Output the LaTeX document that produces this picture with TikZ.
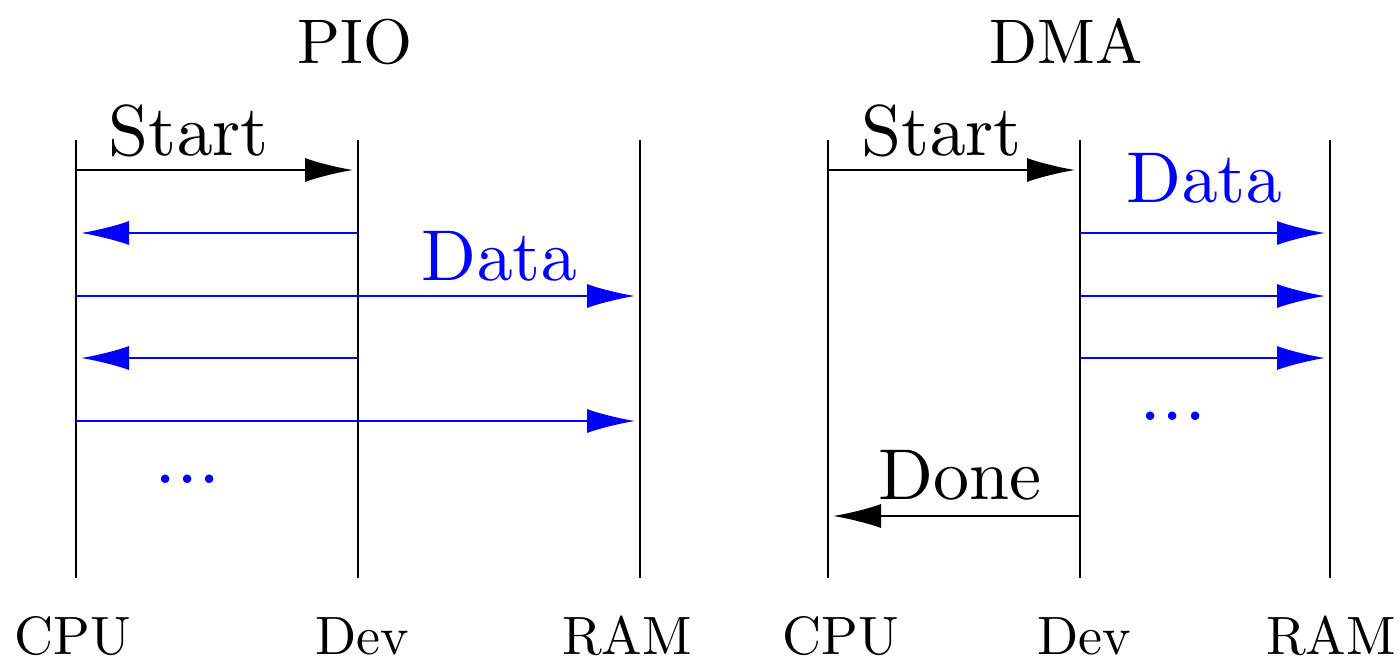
\documentclass[tikz,border=0pt]{standalone}
\usetikzlibrary{arrows.meta}
\definecolor{dblue}{RGB}{0,0,255}
\font\fBig=cmr10 at 36pt
\font\fTtl=cmr10 at 31.5pt
\font\fLbl=cmr10 at 27pt
\font\fDot=cmr10 at 40pt
\begin{document}
\begin{tikzpicture}[x=0.5pt,y=-0.5pt,
  life/.style={line width=1pt,black},
  msg/.style={line width=1pt,-{Latex[length=24pt,width=12pt]},shorten >=2.5pt},
  blu/.style={msg,dblue},
  big/.style={font=\fBig,inner sep=0pt},
  ttl/.style={font=\fTtl,inner sep=0pt},
  lbl/.style={font=\fLbl,inner sep=0pt},
  dts/.style={font=\fDot,text=dblue,inner sep=0pt}]
\useasboundingbox (0,0) rectangle (1400,660);
% lifelines
\foreach \n/\x in {pc/76,pd/358,pr/640,dc/828,dd/1080,dr/1330}{
  \coordinate (\n t) at (\x,140);
  \coordinate (\n b) at (\x,578);
  \draw[life] (\n t) -- (\n b);
}
% row coordinates
\foreach \n/\y in {y1/170,y2/233,y3/296,y4/358,y5/421,y6/516}{
  \coordinate (\n) at (0,\y);
}
% titles
\node[ttl] (pio) at (355,42) {PIO};
\node[ttl] (dma) at (1066,42) {DMA};
% bottom labels
\node[lbl] (l1) at (73,636) {CPU};
\node[lbl] (l2) at (362,636) {Dev};
\node[lbl] (l3) at (627,636) {RAM};
\node[lbl] (l4) at (841,636) {CPU};
\node[lbl] (l5) at (1084,636) {Dev};
\node[lbl] (l6) at (1331,636) {RAM};
% PIO
\draw[msg] (pct |- y1) -- (pdt |- y1);
\node[big,anchor=base] (s1) at (189,155) {Start};
\draw[blu] (pdt |- y2) -- (pct |- y2);
\draw[blu] (pct |- y3) -- (prt |- y3);
\node[big,anchor=base,text=dblue] (d1) at (499,280) {Data};
\draw[blu] (pdt |- y4) -- (pct |- y4);
\draw[blu] (pct |- y5) -- (prt |- y5);
\node[dts,anchor=base] (e1) at (188,483) {...};
% DMA
\draw[msg] (dct |- y1) -- (ddt |- y1);
\node[big,anchor=base] (s2) at (942,155) {Start};
\node[big,anchor=base,text=dblue] (d2) at (1204,202) {Data};
\draw[blu] (ddt |- y2) -- (drt |- y2);
\draw[blu] (ddt |- y3) -- (drt |- y3);
\draw[blu] (ddt |- y4) -- (drt |- y4);
\node[dts,anchor=base] (e2) at (1173,420) {...};
\draw[msg] (ddt |- y6) -- (dct |- y6);
\node[big,anchor=base] (dn) at (960,499) {Done};
\end{tikzpicture}
\end{document}
